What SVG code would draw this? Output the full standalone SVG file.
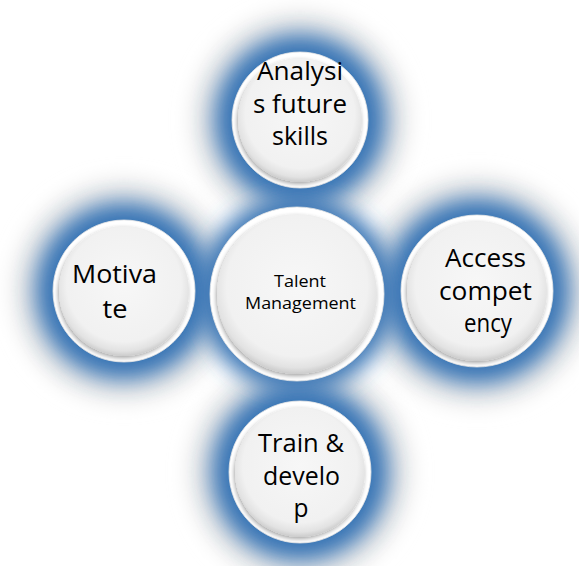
<svg xmlns="http://www.w3.org/2000/svg" width="579" height="566" viewBox="0 0 579 566">
  <defs>
    <filter id="blurBlue" x="-60%" y="-60%" width="220%" height="220%">
      <feGaussianBlur stdDeviation="11"/>
    </filter>
    <filter id="blurGray" x="-60%" y="-60%" width="220%" height="220%">
      <feGaussianBlur stdDeviation="10"/>
    </filter>
    <filter id="faceShadow" x="-20%" y="-20%" width="140%" height="140%">
      <feGaussianBlur in="SourceAlpha" stdDeviation="2"/>
      <feOffset dx="-1" dy="2" result="sh"/>
      <feComponentTransfer in="sh" result="sh2"><feFuncA type="linear" slope="0.35"/></feComponentTransfer>
      <feMerge><feMergeNode in="sh2"/><feMergeNode in="SourceGraphic"/></feMerge>
    </filter>
    <radialGradient id="face" cx="50%" cy="45%" r="55%">
      <stop offset="0" stop-color="#f7f7f7"/>
      <stop offset="0.8" stop-color="#f1f1f1"/>
      <stop offset="0.93" stop-color="#e2e2e2"/>
      <stop offset="1" stop-color="#cbcbcb"/>
    </radialGradient>
  </defs>
  <style>
    .gray { fill: #e6e6e6; filter: url(#blurGray); }
    .blue { fill: #3874b5; filter: url(#blurBlue); }
    .ring { fill: #ffffff; stroke: #e6e6e6; stroke-width: 0.8; }
    .face { fill: url(#face); filter: url(#faceShadow); }
    .big { font-family: "Open Sans", "Noto Sans", sans-serif; font-size: 25px; fill: #000000; text-anchor: middle; }
    .small { font-family: "Open Sans", "Noto Sans", sans-serif; font-size: 17px; fill: #000000; text-anchor: middle; }
  </style>
  <rect width="579" height="566" fill="#ffffff"/>

  <g id="halo">
    <circle class="gray" cx="300" cy="120" r="108"/>
    <circle class="gray" cx="124" cy="291" r="111"/>
    <circle class="gray" cx="477" cy="291" r="115"/>
    <circle class="gray" cx="300" cy="472" r="111"/>
    <circle class="blue" cx="300" cy="120" r="86"/>
    <circle class="blue" cx="124" cy="291" r="89"/>
    <circle class="blue" cx="477" cy="291" r="93"/>
    <circle class="blue" cx="300" cy="472" r="89"/>
    <circle class="blue" cx="297" cy="294" r="98"/>
  </g>

  <g id="connectors"></g>

  <g id="center">
    <circle class="ring" cx="297" cy="294" r="87"/>
    <circle class="face" cx="297" cy="294" r="80"/>
    <text class="small" x="300" y="287" textLength="52" lengthAdjust="spacingAndGlyphs">Talent</text>
    <text class="small" x="300.5" y="309" textLength="111" lengthAdjust="spacingAndGlyphs">Management</text>
  </g>

  <g id="top">
    <circle class="ring" cx="300" cy="120" r="68"/>
    <circle class="face" cx="300" cy="120" r="62"/>
    <text class="big" x="300" y="80" textLength="86" lengthAdjust="spacingAndGlyphs">Analysi</text>
    <text class="big" x="300" y="113" textLength="94" lengthAdjust="spacingAndGlyphs">s future</text>
    <text class="big" x="300" y="145" textLength="56" lengthAdjust="spacingAndGlyphs">skills</text>
  </g>

  <g id="left">
    <circle class="ring" cx="124" cy="291" r="71"/>
    <circle class="face" cx="124" cy="291" r="65"/>
    <text class="big" x="114.5" y="283" textLength="85" lengthAdjust="spacingAndGlyphs">Motiva</text>
    <text class="big" x="115" y="318" textLength="25" lengthAdjust="spacingAndGlyphs">te</text>
  </g>

  <g id="right">
    <circle class="ring" cx="477" cy="291" r="76"/>
    <circle class="face" cx="477" cy="291" r="70"/>
    <text class="big" x="485.5" y="267" textLength="81" lengthAdjust="spacingAndGlyphs">Access</text>
    <text class="big" x="485.5" y="300" textLength="93" lengthAdjust="spacingAndGlyphs">compet</text>
    <text class="big" x="488" y="332" textLength="48" lengthAdjust="spacingAndGlyphs">ency</text>
  </g>

  <g id="bottom">
    <circle class="ring" cx="300" cy="472" r="71"/>
    <circle class="face" cx="300" cy="472" r="65"/>
    <text class="big" x="301" y="452" textLength="86" lengthAdjust="spacingAndGlyphs">Train &amp;</text>
    <text class="big" x="301.5" y="485" textLength="77" lengthAdjust="spacingAndGlyphs">develo</text>
    <text class="big" x="301" y="517" textLength="15" lengthAdjust="spacingAndGlyphs">p</text>
  </g>
</svg>
